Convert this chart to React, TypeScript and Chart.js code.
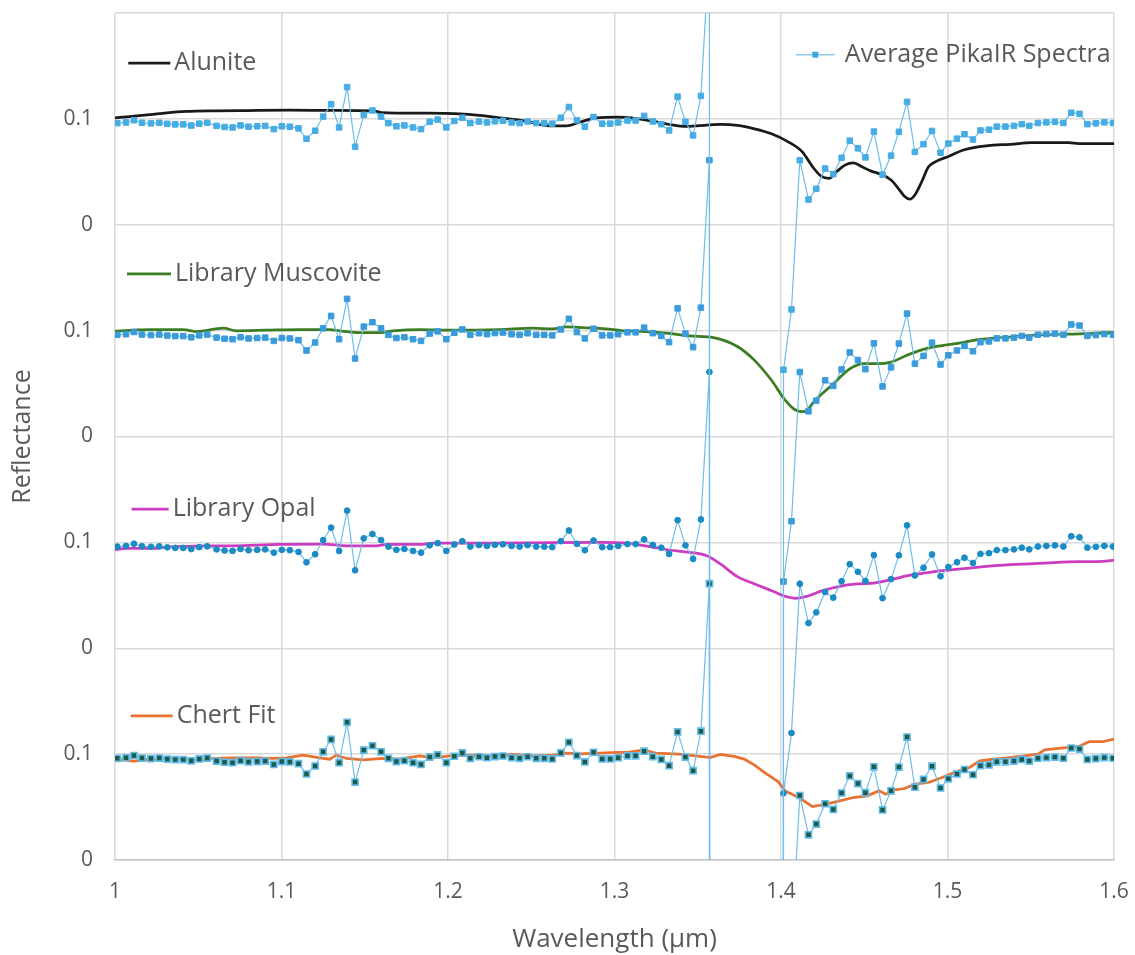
import React, { useEffect, useRef } from "react";
import { Chart, registerables } from "chart.js";

Chart.register(...registerables);

const FONT = '"Open Sans", "DejaVu Sans", sans-serif';
const TEXT_COLOR = "#595959";
const GRID_COLOR = "#d9d9d9";

// Axis ranges
const X_MIN = 1.0;
const X_MAX = 1.6;
const X_STEP = 0.1;
const Y_MIN = 0;
const Y_MAX = 0.8;
const Y_STEP = 0.1;

// Every spectrum sits in its own 0.2-tall band, stacked from the bottom
const offsetChert = 0;
const offsetOpal = 0.2;
const offsetMuscovite = 0.4;
const offsetAlunite = 0.6;

// Averaged PikaIR spectrum (µm, reflectance). The 1.36–1.40 µm water band
// saturates and runs far below the axis.
const pikaWavelength = [
  1.0014, 1.0066, 1.0114, 1.0162, 1.0216, 1.0266, 1.0314, 1.0362, 1.041, 1.0458,
  1.0506, 1.0554, 1.061, 1.0658, 1.0706, 1.0754, 1.0802, 1.0854, 1.0902, 1.0954,
  1.1002, 1.105, 1.1102, 1.115, 1.1202, 1.125, 1.1298, 1.1346, 1.1394, 1.1442,
  1.1494, 1.1546, 1.1598, 1.1642, 1.169, 1.1738, 1.179, 1.1838, 1.189, 1.1938,
  1.199, 1.2038, 1.2086, 1.2134, 1.2186, 1.2234, 1.2282, 1.233, 1.2382, 1.243,
  1.2478, 1.253, 1.2578, 1.2626, 1.2678, 1.2726, 1.2774, 1.2822, 1.2874, 1.2926,
  1.2974, 1.3022, 1.3078, 1.3127, 1.3178, 1.323, 1.3281, 1.3328, 1.3379, 1.3426,
  1.3472, 1.3519, 1.357, 1.3619, 1.3669, 1.3718, 1.3768, 1.3817, 1.3867, 1.3916,
  1.3966, 1.4015, 1.4063, 1.4113, 1.4165, 1.4212, 1.4265, 1.4314, 1.4364, 1.4413,
  1.4462, 1.4507, 1.4558, 1.461, 1.4661, 1.4708, 1.4757, 1.4804, 1.4856, 1.4907,
  1.4958, 1.5005, 1.5057, 1.5102, 1.5153, 1.5198, 1.5249, 1.5296, 1.5348, 1.5399,
  1.5446, 1.5491, 1.5543, 1.5594, 1.5645, 1.5696, 1.5743, 1.5793, 1.584, 1.5891,
  1.5942, 1.5994,
];
const pikaReflectance = [
  0.096, 0.0966, 0.0987, 0.0963, 0.0958, 0.0963, 0.0953, 0.0948, 0.0948, 0.0937,
  0.0955, 0.0963, 0.0934, 0.0923, 0.0919, 0.0938, 0.0926, 0.093, 0.0934, 0.0903,
  0.093, 0.0926, 0.091, 0.0812, 0.0888, 0.1022, 0.1139, 0.0919, 0.13, 0.0736,
  0.1038, 0.1079, 0.1022, 0.096, 0.093, 0.0938, 0.0919, 0.0903, 0.0972, 0.0993,
  0.0919, 0.098, 0.1011, 0.096, 0.0975, 0.0966, 0.0977, 0.0982, 0.0966, 0.096,
  0.0975, 0.096, 0.096, 0.0955, 0.1011, 0.1112, 0.0986, 0.0926, 0.1018, 0.0955,
  0.0955, 0.0966, 0.0984, 0.0984, 0.1028, 0.0976, 0.095, 0.0891, 0.121, 0.0972,
  0.0844, 0.1217, 0.261, -80, -80, -80, -80, -80, -80, -80,
  -80, -0.137, -0.08, 0.0609, 0.0238, 0.0339, 0.0531, 0.0478, 0.0633, 0.0794,
  0.0722, 0.0636, 0.088, 0.0473, 0.0653, 0.0878, 0.1161, 0.0688, 0.0761, 0.0886,
  0.068, 0.0767, 0.0813, 0.0855, 0.0805, 0.0891, 0.0898, 0.0927, 0.0927, 0.0934,
  0.095, 0.0934, 0.0961, 0.0967, 0.0972, 0.0961, 0.1058, 0.1048, 0.095, 0.0958,
  0.0967, 0.0961,
];

// Library alunite
const alunWavelength = [
  1.0, 1.009, 1.021, 1.031, 1.043, 1.06, 1.079, 1.105, 1.13, 1.155, 1.16, 1.187,
  1.207, 1.219, 1.231, 1.247, 1.261, 1.271, 1.279, 1.289, 1.302, 1.31, 1.3226,
  1.3328, 1.3431, 1.3492, 1.3636, 1.3738, 1.3841, 1.3943, 1.4046, 1.4128, 1.419,
  1.4241, 1.4288, 1.4333, 1.4384, 1.4435, 1.4487, 1.4538, 1.4599, 1.4661, 1.4712,
  1.4743, 1.4774, 1.4804, 1.4845, 1.4886, 1.4938, 1.5009, 1.5091, 1.5173, 1.5276,
  1.5378, 1.5502, 1.5727, 1.5789, 1.6,
];
const alunReflectance = [
  0.1009, 0.1022, 0.104, 0.1057, 0.107, 0.1076, 0.1079, 0.1082, 0.108, 0.1076,
  0.106, 0.1054, 0.1047, 0.1032, 0.101, 0.0978, 0.0934, 0.0934, 0.0968, 0.101,
  0.1016, 0.1009, 0.0978, 0.0947, 0.0928, 0.0934, 0.0947, 0.0938, 0.0906, 0.0859,
  0.0781, 0.0688, 0.0547, 0.0459, 0.0438, 0.05, 0.0563, 0.0584, 0.0547, 0.0509,
  0.0478, 0.0422, 0.0328, 0.0266, 0.0241, 0.0281, 0.0406, 0.0547, 0.0603, 0.0647,
  0.0703, 0.0734, 0.0753, 0.0759, 0.0775, 0.0775, 0.0766, 0.0766,
];

// Library muscovite
const muscWavelength = [
  1.0, 1.011, 1.021, 1.041, 1.049, 1.065, 1.073, 1.091, 1.111, 1.129, 1.135, 1.147,
  1.159, 1.167, 1.183, 1.203, 1.231, 1.251, 1.263, 1.271, 1.281, 1.295, 1.3041,
  1.3164, 1.3328, 1.3451, 1.3595, 1.3738, 1.3841, 1.3943, 1.4025, 1.4087, 1.4138,
  1.421, 1.4312, 1.4415, 1.4497, 1.4579, 1.4661, 1.4763, 1.4866, 1.4968, 1.5071,
  1.5173, 1.5379, 1.5584, 1.5789, 1.6,
];
const muscReflectance = [
  0.0995, 0.1004, 0.101, 0.101, 0.0991, 0.1023, 0.0998, 0.1004, 0.101, 0.101,
  0.0998, 0.0982, 0.0982, 0.0998, 0.101, 0.1004, 0.101, 0.1023, 0.1017, 0.1036,
  0.1029, 0.1017, 0.1, 0.0994, 0.0975, 0.095, 0.0934, 0.085, 0.0719, 0.0531,
  0.0344, 0.025, 0.0234, 0.035, 0.0494, 0.0641, 0.0688, 0.0688, 0.0703, 0.0772,
  0.0828, 0.0859, 0.0881, 0.0913, 0.0938, 0.0963, 0.0969, 0.0984,
];

// Library opal
const opalWavelength = [
  1.0, 1.007, 1.025, 1.031, 1.071, 1.099, 1.125, 1.139, 1.157, 1.163, 1.185, 1.191,
  1.231, 1.2918, 1.3082, 1.3205, 1.3328, 1.3451, 1.3554, 1.3636, 1.3738, 1.3841,
  1.3943, 1.4025, 1.4087, 1.4148, 1.425, 1.4353, 1.4456, 1.4558, 1.4661, 1.4763,
  1.4866, 1.4968, 1.5173, 1.5378, 1.5584, 1.5789, 1.5932, 1.6,
];
const opalReflectance = [
  0.0931, 0.0943, 0.0943, 0.0956, 0.0968, 0.0981, 0.0984, 0.0968, 0.0968, 0.0981,
  0.0981, 0.0994, 0.0994, 0.1, 0.0991, 0.0962, 0.0928, 0.0906, 0.0874, 0.0796,
  0.0676, 0.0607, 0.0544, 0.0491, 0.0472, 0.0487, 0.0544, 0.0585, 0.0607, 0.0616,
  0.0648, 0.0686, 0.0711, 0.0733, 0.0764, 0.0789, 0.0805, 0.0818, 0.0821, 0.0833,
];

// Chert fit
const chertWavelength = [
  1.0, 1.011, 1.021, 1.031, 1.045, 1.051, 1.059, 1.071, 1.085, 1.095, 1.103, 1.113,
  1.123, 1.129, 1.133, 1.139, 1.149, 1.161, 1.171, 1.183, 1.191, 1.201, 1.213,
  1.227, 1.239, 1.251, 1.263, 1.271, 1.279, 1.291, 1.302, 1.3082, 1.3174, 1.3246,
  1.339, 1.3513, 1.3574, 1.3636, 1.3718, 1.3779, 1.3841, 1.3902, 1.3984, 1.4025,
  1.4107, 1.4189, 1.4271, 1.4353, 1.4435, 1.4517, 1.4589, 1.463, 1.4681, 1.4743,
  1.4804, 1.4886, 1.4968, 1.505, 1.5132, 1.5194, 1.5276, 1.5358, 1.5461, 1.5543,
  1.5584, 1.5666, 1.5727, 1.5789, 1.5851, 1.5932, 1.6,
];
const chertReflectance = [
  0.0952, 0.0933, 0.0946, 0.0959, 0.0952, 0.0937, 0.0959, 0.0965, 0.0965, 0.0959,
  0.0965, 0.099, 0.0965, 0.0952, 0.099, 0.0959, 0.0946, 0.0959, 0.0952, 0.0984,
  0.0965, 0.0984, 0.099, 0.0984, 0.0997, 0.0984, 0.099, 0.101, 0.1003, 0.101,
  0.1016, 0.1016, 0.1041, 0.1009, 0.1, 0.0978, 0.0968, 0.0997, 0.0978, 0.0953,
  0.0896, 0.0826, 0.0738, 0.0653, 0.059, 0.0505, 0.0527, 0.0558, 0.059, 0.0606,
  0.0653, 0.0621, 0.0662, 0.0675, 0.0716, 0.0732, 0.0779, 0.0833, 0.0874, 0.0937,
  0.0953, 0.0965, 0.0984, 0.1, 0.1041, 0.1054, 0.1063, 0.1073, 0.1117, 0.1117,
  0.1142,
];

const toPoints = (wl: number[], refl: number[], offset: number) =>
  wl.map((w, i) => ({ x: w, y: refl[i] + offset }));

const PIKA_LINE = "#6fbdea";

// One copy of the measured spectrum per band, each with its own marker
const pikaBands = [
  { offset: offsetAlunite, style: "rect", radius: 3.9, fill: "#46ace4", edge: "#46ace4", edgeWidth: 1 },
  { offset: offsetMuscovite, style: "rect", radius: 3.9, fill: "#3a9bdc", edge: "#3a9bdc", edgeWidth: 1 },
  { offset: offsetOpal, style: "circle", radius: 2.9, fill: "#1b8bc5", edge: "#1b8bc5", edgeWidth: 1 },
  { offset: offsetChert, style: "rect", radius: 4.3, fill: "#1d5a48", edge: "#61bbe9", edgeWidth: 1.6 },
];

const libraryLines = [
  { label: "Alunite", wl: alunWavelength, refl: alunReflectance, offset: offsetAlunite, color: "#1a1a1a", tension: 0.35 },
  { label: "Library Muscovite", wl: muscWavelength, refl: muscReflectance, offset: offsetMuscovite, color: "#3b7d23", tension: 0.35 },
  { label: "Library Opal", wl: opalWavelength, refl: opalReflectance, offset: offsetOpal, color: "#cc3cc0", tension: 0.35 },
  { label: "Chert Fit", wl: chertWavelength, refl: chertReflectance, offset: offsetChert, color: "#e97132", tension: 0 },
];

// In-plot series labels, anchored in data units (wavelength, stacked level)
const seriesLabels = [
  { text: "Alunite", color: "#1a1a1a", wl: 1.008, level: 0.7527, len: 42, gap: 4, marker: "" },
  { text: "Library Muscovite", color: "#3b7d23", wl: 1.0072, level: 0.5537, len: 44, gap: 4, marker: "" },
  { text: "Library Opal", color: "#cc3cc0", wl: 1.01, level: 0.3313, len: 37, gap: 4, marker: "" },
  { text: "Chert Fit", color: "#e97132", wl: 1.0094, level: 0.1361, len: 42, gap: 4, marker: "" },
  { text: "Average PikaIR Spectra", color: "#8ccbee", wl: 1.4089, level: 0.7606, len: 39, gap: 10, marker: "#3ea8e0" },
];

const seriesLabelPlugin = {
  id: "seriesLabels",
  afterDraw(chart: any) {
    const { ctx } = chart;
    const xs = chart.scales.x;
    const ys = chart.scales.y;
    ctx.save();
    ctx.font = `25px ${FONT}`;
    ctx.textBaseline = "middle";
    ctx.textAlign = "left";
    for (const lab of seriesLabels) {
      const px = xs.getPixelForValue(lab.wl);
      const py = ys.getPixelForValue(lab.level);
      ctx.strokeStyle = lab.color;
      ctx.lineWidth = lab.marker ? 1.5 : 2.75;
      ctx.beginPath();
      ctx.moveTo(px, py);
      ctx.lineTo(px + lab.len, py);
      ctx.stroke();
      if (lab.marker) {
        ctx.fillStyle = lab.marker;
        ctx.fillRect(px + lab.len / 2 - 3, py - 3, 6, 6);
      }
      ctx.fillStyle = TEXT_COLOR;
      ctx.fillText(lab.text, px + lab.len + lab.gap, py);
    }
    ctx.restore();
  },
};

function SpectraChart() {
  const canvasRef = useRef<HTMLCanvasElement | null>(null);

  useEffect(() => {
    if (!canvasRef.current) return;

    const pikaSets = pikaBands.map((b) => ({
      label: "Average PikaIR Spectra",
      data: toPoints(pikaWavelength, pikaReflectance, b.offset),
      borderColor: PIKA_LINE,
      borderWidth: 1.2,
      pointStyle: b.style,
      pointRadius: b.radius,
      pointBackgroundColor: b.fill,
      pointBorderColor: b.edge,
      pointBorderWidth: b.edgeWidth,
      tension: 0,
    }));

    const librarySets = libraryLines.map((l) => ({
      label: l.label,
      data: toPoints(l.wl, l.refl, l.offset),
      borderColor: l.color,
      borderWidth: 2.75,
      pointRadius: 0,
      tension: l.tension,
      cubicInterpolationMode: l.tension > 0 ? "monotone" : "default",
    }));

    const chart = new Chart(canvasRef.current, {
      type: "line",
      data: { datasets: [...pikaSets, ...librarySets] as any },
      options: {
        responsive: false,
        animation: false,
        layout: { padding: { top: 13, right: 21, left: 0, bottom: 0 } },
        plugins: { legend: { display: false }, tooltip: { enabled: false } },
        scales: {
          x: {
            type: "linear",
            min: X_MIN,
            max: X_MAX,
            ticks: {
              stepSize: X_STEP,
              padding: 19,
              color: TEXT_COLOR,
              font: { family: FONT, size: 21 },
              callback: (v: any) => String(Number(Number(v).toFixed(1))),
            },
            grid: { color: GRID_COLOR, lineWidth: 1.5, drawTicks: false },
            border: { color: "#c4c4c4", width: 1.5 },
            title: {
              display: true,
              text: "Wavelength (µm)",
              color: TEXT_COLOR,
              font: { family: FONT, size: 26 },
              padding: { top: 0, bottom: 0 },
            },
            afterFit: (s: any) => {
              s.height = 95;
              s.paddingLeft = 0;
              s.paddingRight = 0;
            },
          },
          y: {
            type: "linear",
            min: Y_MIN,
            max: Y_MAX,
            ticks: {
              stepSize: Y_STEP,
              padding: 22,
              color: TEXT_COLOR,
              font: { family: FONT, size: 21 },
              callback: (v: any) => {
                const k = Math.round(Number(v) * 10);
                if (k >= 8) return "";
                return k % 2 === 0 ? "0" : "0.1";
              },
            },
            grid: { color: GRID_COLOR, lineWidth: 1.5, drawTicks: false },
            border: { display: false },
            title: {
              display: true,
              text: "Reflectance",
              color: TEXT_COLOR,
              font: { family: FONT, size: 25 },
              padding: { top: 8, bottom: 0 },
            },
            afterFit: (s: any) => {
              s.width = 115;
              s.paddingTop = 0;
              s.paddingBottom = 0;
            },
          },
        },
      } as any,
      plugins: [seriesLabelPlugin],
    });

    if ((document as any).fonts?.load) {
      (document as any).fonts.load(`20px ${FONT}`).then(() => chart.update());
    }

    return () => chart.destroy();
  }, []);

  return <canvas ref={canvasRef} width={1135} height={955} style={{ display: "block" }} />;
}

export default function App() {
  return (
    <div style={{ position: "absolute", left: 0, top: 0, width: 1135, height: 955, background: "#ffffff" }}>
      <SpectraChart />
    </div>
  );
}
